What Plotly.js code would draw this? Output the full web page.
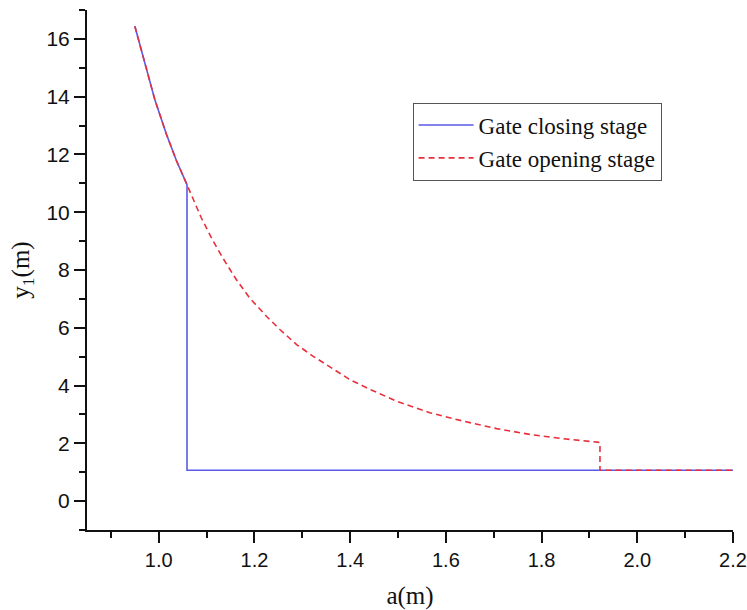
<!DOCTYPE html>
<html>
<head>
<meta charset="utf-8">
<script src="https://cdn.plot.ly/plotly-3.0.1.min.js"></script>
<style>html,body{margin:0;padding:0;background:#fff;}#chart{width:747px;height:610px;}</style>
</head>
<body>
<div id="chart"></div>
<script>
// Gate closing stage (blue solid)
const closingA = [0.950, 0.971, 0.992, 1.016, 1.037, 1.059, 1.059, 2.200];
const closingY = [16.44, 15.20, 13.88, 12.70, 11.78, 10.95, 1.07, 1.07];
// Gate opening stage (red dashed)
const openingA = [0.950, 0.971, 0.992, 1.016, 1.037, 1.059, 1.089, 1.113, 1.134, 1.162, 1.190, 1.225, 1.253, 1.288, 1.322, 1.360, 1.399, 1.441, 1.497, 1.566, 1.636, 1.706, 1.775, 1.845, 1.922, 1.922, 2.200];
const openingY = [16.44, 15.20, 13.88, 12.70, 11.78, 10.95, 9.80, 9.02, 8.41, 7.67, 7.03, 6.40, 5.94, 5.42, 5.02, 4.62, 4.21, 3.87, 3.46, 3.06, 2.77, 2.51, 2.31, 2.16, 2.03, 1.07, 1.07];
const seriesNames = ["Gate closing stage", "Gate opening stage"];

const traces = [
  {x: closingA, y: closingY, mode: 'lines', name: seriesNames[0],
   line: {color: '#5a5ae6', width: 1.6}},
  {x: openingA, y: openingY, mode: 'lines', name: seriesNames[1],
   line: {color: '#e8303c', width: 1.6, dash: '6px,4px'}}
];

const layout = {
  width: 747, height: 610,
  paper_bgcolor: '#fff', plot_bgcolor: '#fff',
  margin: {l: 87, r: 14, t: 10, b: 80},
  showlegend: true,
  legend: {
    x: 0.504, y: 0.822, xanchor: 'left', yanchor: 'top',
    bgcolor: '#fff', bordercolor: '#555', borderwidth: 1,
    font: {family: 'Liberation Serif, Times New Roman, serif', size: 23, color: '#111'},
    itemwidth: 55, tracegroupgap: 0
  },
  xaxis: {
    range: [0.85, 2.2], tick0: 1.0, dtick: 0.2, tickformat: '.1f',
    showgrid: false, zeroline: false, showline: true, linecolor: '#111', linewidth: 2,
    ticks: 'outside', ticklen: 11, tickwidth: 2, tickcolor: '#111',
    minor: {ticks: 'outside', ticklen: 6, tickwidth: 2, tickcolor: '#111', dtick: 0.1, tick0: 0.9, showgrid: false},
    tickfont: {family: 'Liberation Sans, Arial, sans-serif', size: 20, color: '#111'},
    title: {text: 'a(m)', font: {family: 'Liberation Serif, Times New Roman, serif', size: 25, color: '#111'}, standoff: 16},
    automargin: false
  },
  yaxis: {
    range: [-1, 17], tick0: 0, dtick: 2,
    showgrid: false, zeroline: false, showline: true, linecolor: '#111', linewidth: 2,
    ticks: 'outside', ticklen: 11, tickwidth: 2, tickcolor: '#111',
    minor: {ticks: 'outside', ticklen: 6, tickwidth: 2, tickcolor: '#111', dtick: 1, showgrid: false},
    tickfont: {family: 'Liberation Sans, Arial, sans-serif', size: 21, color: '#111'},
    title: {text: 'y<sub>1</sub>(m)', font: {family: 'Liberation Serif, Times New Roman, serif', size: 25, color: '#111'}, standoff: 10},
    automargin: false
  }
};

Plotly.newPlot('chart', traces, layout, {displayModeBar: false, staticPlot: true});
</script>
</body>
</html>
